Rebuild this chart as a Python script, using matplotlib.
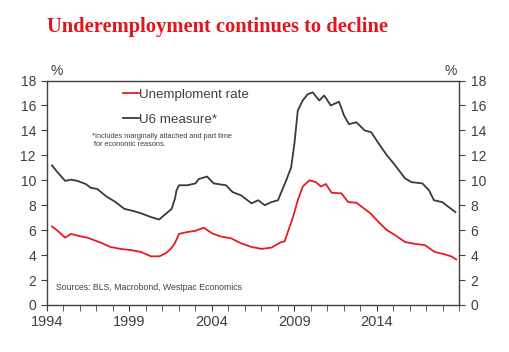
import matplotlib.pyplot as plt
import numpy as np

# U6 measure (decimal year, %)
u6_year = [1994.3, 1994.6, 1995.1, 1995.45, 1995.85, 1996.35, 1996.65, 1997.05, 1997.6,
           1998.1, 1998.7, 1999.2, 1999.7, 2000.3, 2000.8, 2001.1, 2001.55, 2001.75,
           2001.85, 2002.0, 2002.5, 2003.0, 2003.2, 2003.7, 2004.1, 2004.85, 2005.25,
           2005.75, 2006.4, 2006.8, 2007.2, 2007.6, 2008.0, 2008.2, 2008.5, 2008.8,
           2009.0, 2009.2, 2009.5, 2009.8, 2010.1, 2010.5, 2010.8, 2011.2, 2011.7,
           2012.0, 2012.3, 2012.75, 2013.25, 2013.65, 2014.1, 2014.6, 2015.1, 2015.7,
           2016.1, 2016.75, 2017.15, 2017.45, 2017.95, 2018.35, 2018.75]
u6_val = [11.2, 10.7, 9.95, 10.05, 9.95, 9.7, 9.4, 9.3, 8.7,
          8.3, 7.7, 7.55, 7.35, 7.05, 6.85, 7.2, 7.7, 8.5,
          9.2, 9.6, 9.6, 9.75, 10.1, 10.3, 9.75, 9.6, 9.05,
          8.8, 8.15, 8.4, 8.0, 8.25, 8.4, 9.05, 10.0, 11.05,
          13.0, 15.6, 16.4, 16.9, 17.05, 16.4, 16.8, 16.0, 16.3,
          15.2, 14.5, 14.65, 14.0, 13.85, 12.95, 12.0, 11.2, 10.15,
          9.85, 9.75, 9.2, 8.4, 8.25, 7.85, 7.45]

# Unemployment rate
ur_year = [1994.3, 1994.6, 1995.1, 1995.45, 1996.05, 1996.45, 1996.85, 1997.35, 1997.85,
           1998.45, 1999.1, 1999.7, 2000.3, 2000.8, 2001.2, 2001.5, 2001.75, 2002.0,
           2002.5, 2003.0, 2003.5, 2004.0, 2004.5, 2005.15, 2005.75, 2006.4, 2007.0,
           2007.6, 2008.2, 2008.4, 2008.7, 2008.9, 2009.2, 2009.5, 2009.9, 2010.3,
           2010.6, 2010.9, 2011.25, 2011.85, 2012.25, 2012.75, 2013.2, 2013.6, 2014.1,
           2014.6, 2015.1, 2015.7, 2016.3, 2016.9, 2017.5, 2018.0, 2018.5, 2018.8]
ur_val = [6.3, 6.0, 5.4, 5.7, 5.5, 5.4, 5.2, 4.95, 4.65,
          4.5, 4.4, 4.25, 3.9, 3.9, 4.15, 4.5, 4.95, 5.7,
          5.85, 5.95, 6.2, 5.75, 5.5, 5.35, 4.95, 4.65, 4.5,
          4.6, 5.05, 5.1, 6.25, 7.0, 8.4, 9.5, 10.0, 9.85,
          9.5, 9.7, 9.0, 8.95, 8.25, 8.2, 7.75, 7.35, 6.65,
          6.0, 5.6, 5.05, 4.9, 4.8, 4.25, 4.1, 3.9, 3.65]

major_years = [1994, 1999, 2004, 2009, 2014]
yticks = [0, 2, 4, 6, 8, 10, 12, 14, 16, 18]

red = '#e41c23'
dark = '#3a3a3a'
txt = '#404040'

plt.rcParams['font.family'] = ['Liberation Sans', 'DejaVu Sans']

fig = plt.figure(figsize=(5.1, 3.52), dpi=100)
ax = fig.add_axes([47/510, 1 - 305/352, 412.5/510, 224.5/352])

ax.plot(ur_year, ur_val, color=red, lw=1.3, label='Unemploment rate')
ax.plot(u6_year, u6_val, color=dark, lw=1.3, label='U6 measure*')

ax.set_xlim(1994, 2019)
ax.set_ylim(0, 18)
ax.set_xticks(major_years)
ax.set_xticks(np.arange(1994, 2020), minor=True)
ax.set_yticks(yticks)
for s in ax.spines.values():
    s.set_color(txt)
    s.set_linewidth(1.0)
ax.tick_params(axis='y', direction='out', length=4, color=txt, labelcolor=txt,
               labelsize=10, left=True, right=True, labelleft=True, labelright=True, pad=4)
ax.tick_params(axis='x', which='both', direction='out', length=4, color=txt,
               labelcolor=txt, labelsize=10.5, pad=3)

leg = ax.legend(loc='upper left', bbox_to_anchor=(0.155, 1.018), frameon=False,
                handlelength=1.2, handletextpad=0.0, labelspacing=0.95, fontsize=9.6)
for t in leg.get_texts():
    t.set_color(txt)

ax.text(92/510, 1 - 133/352, '*Includes marginally attached and part time\n for economic reasons.',
        transform=fig.transFigure, fontsize=5.3, color=txt, va='top', ha='left')
ax.text(56/510, 1 - 287/352, 'Sources: BLS, Macrobond, Westpac Economics',
        transform=fig.transFigure, fontsize=6.3, color=txt, va='center', ha='left')

fig.text(57/510, 1 - 71/352, '%', fontsize=10, color=txt, ha='center', va='center')
fig.text(451/510, 1 - 71/352, '%', fontsize=10, color=txt, ha='center', va='center')

fig.text(47/510, 1 - 27/352, 'Underemployment continues to decline', fontsize=14.8,
         fontfamily='Liberation Serif', fontweight='bold', color='#e2141e',
         ha='left', va='center')

fig.savefig('out.png', dpi=100)
